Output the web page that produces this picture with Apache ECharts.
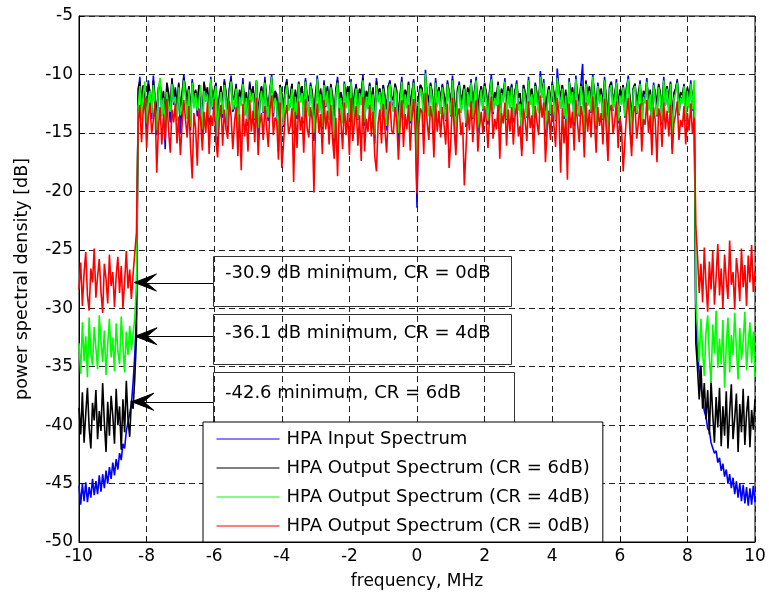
<!DOCTYPE html>
<html>
<head>
<meta charset="utf-8">
<script src="https://cdn.jsdelivr.net/npm/echarts@6/dist/echarts.min.js"></script>
<style>
  html, body { margin: 0; padding: 0; background: #fff; }
  #chart { width: 769px; height: 596px; }
</style>
</head>
<body>
<div id="chart"></div>
<script>
// Frequency grid: -10 MHz to +10 MHz in 0.05 MHz steps (401 bins)
const freqStart = -10;
const freqStep = 0.05;

// Input spectrum (dB): lower skirt, occupied band, upper skirt
const inputLeft = [
  -45.2, -46.8, -45.0, -46.5, -44.9, -46.6, -45.3, -46.2, -44.6, -46.0,
  -44.8, -45.9, -44.3, -45.7, -44.2, -45.4, -43.9, -45.0, -43.6, -44.6,
  -43.2, -44.3, -42.9, -43.8, -42.4, -43.0, -41.6, -42.0, -40.5, -40.6,
  -39.0, -38.2, -36.4, -34.0, -30.5
];
const inputBand = [
  -11.8, -10.2, -13.1, -10.9, -12.4, -14.6, -10.5, -11.7, -13.8, -10.1,
  -12.9, -15.2, -11.3, -10.6, -13.4, -12.0, -16.4, -10.8, -11.9, -14.1,
  -10.3, -12.6, -11.1, -13.9, -10.7, -15.0, -12.2, -10.0, -11.6, -13.3,
  -11.0, -14.8, -10.4, -12.7, -11.4, -13.6, -10.9, -12.1, -15.6, -10.6,
  -12.3, -11.5, -14.3, -10.2, -13.0, -11.8, -10.7, -16.1, -12.5, -11.2,
  -13.7, -10.4, -12.0, -14.9, -11.3, -10.1, -13.2, -12.8, -10.8, -15.4,
  -11.6, -12.4, -10.3, -13.5, -11.9, -14.4, -10.6, -12.2, -11.0, -13.9,
  -10.5, -15.8, -12.6, -11.1, -13.3, -10.2, -12.9, -14.0, -11.4, -10.0,
  -13.6, -11.7, -12.3, -16.6, -10.9, -12.1, -14.5, -11.2, -10.4, -13.0,
  -12.7, -10.8, -15.1, -11.5, -13.8, -10.6, -12.0, -11.3, -14.2, -10.3,
  -12.5, -13.4, -10.7, -11.9, -15.7, -12.2, -10.1, -13.1, -11.6, -14.7,
  -10.5, -12.8, -11.0, -13.7, -10.9, -12.4, -16.2, -11.4, -10.2, -13.2,
  -11.8, -14.1, -10.6, -12.6, -11.1, -13.5, -10.4, -15.3, -12.0, -10.8,
  -13.9, -11.3, -12.3, -10.0, -14.4, -11.7, -12.9, -10.7, -13.3, -11.5,
  -15.9, -10.3, -12.1, -11.2, -13.6, -10.9, -12.7, -14.8, -11.0, -10.5,
  -12.4, -13.1, -10.8, -11.6, -16.0, -12.2, -10.2, -13.8, -11.4, -12.8,
  -10.6, -14.2, -11.9, -10.4, -13.0, -21.4, -12.5, -10.9, -11.3, -14.6,
  -9.6, -12.0, -13.5, -10.7, -11.8, -15.5, -10.3, -12.6, -11.1, -13.2,
  -10.8, -12.3, -14.0, -10.5, -11.7, -13.6, -10.1, -12.9, -16.3, -11.4,
  -10.6, -13.3, -12.1, -10.9, -14.5, -11.2, -12.7, -10.4, -13.8, -11.6,
  -10.2, -15.0, -12.4, -11.0, -13.1, -10.7, -12.0, -14.3, -11.5, -10.0,
  -13.4, -11.8, -12.6, -10.6, -15.6, -11.3, -12.2, -10.3, -13.9, -11.1,
  -12.8, -10.8, -14.1, -11.6, -10.5, -13.0, -12.3, -16.5, -10.9, -11.9,
  -13.7, -10.2, -12.5, -11.4, -14.6, -10.7, -12.1, -13.2, -9.7, -11.7,
  -10.4, -15.3, -12.7, -11.0, -13.5, -10.6, -12.0, -14.0, -9.5, -11.3,
  -12.9, -10.9, -13.8, -11.5, -16.8, -10.3, -12.4, -11.2, -14.4, -10.1,
  -12.2, -13.6, -10.8, -9.1, -15.2, -10.5, -12.6, -11.1, -13.3, -10.0,
  -11.9, -14.7, -10.7, -12.3, -11.4, -13.9, -10.2, -12.8, -15.8, -11.0,
  -10.6, -13.1, -12.0, -10.4, -14.2, -11.6, -12.5, -10.9, -13.7, -11.3,
  -10.1, -12.7, -16.1, -11.2, -10.8, -13.4, -12.2, -10.5, -14.9, -11.7,
  -12.4, -10.3, -13.0, -11.5, -15.5, -10.7, -12.1, -13.6, -10.9, -11.8,
  -14.3, -10.2, -12.6, -11.0, -13.2, -10.6, -16.4, -12.0, -11.4, -10.4,
  -13.5, -11.9, -12.3, -10.8, -14.0, -11.2, -12.8, -10.5, -13.1, -11.6
];
const inputRight = [
  -31.0, -33.8, -35.5, -36.8, -37.6, -38.8, -39.3, -40.3, -40.5, -41.5,
  -41.4, -42.4, -42.2, -43.2, -42.8, -43.9, -43.3, -44.4, -43.8, -45.0,
  -44.2, -45.4, -44.5, -45.9, -44.8, -46.2, -45.0, -46.5, -45.1, -46.7,
  -45.3, -46.9, -45.4, -46.8, -45.2, -46.6
];

// HPA output, CR = 6 dB
const cr6Left = [
  -38.5, -40.8, -37.2, -41.5, -39.0, -36.8, -40.2, -42.0, -38.1, -39.6,
  -37.0, -41.2, -38.8, -40.5, -36.4, -39.8, -42.3, -38.0, -40.9, -37.5,
  -39.2, -41.6, -36.9, -40.0, -38.4, -42.1, -37.8, -40.6, -36.2, -39.5,
  -41.0, -37.9, -38.6, -36.0, -32.5
];
const cr6Band = [
  -11.2, -10.6, -12.4, -11.0, -11.8, -13.1, -10.8, -11.5, -12.7, -10.5,
  -11.9, -13.4, -11.1, -10.9, -12.2, -11.4, -13.8, -10.7, -11.6, -12.9,
  -10.4, -11.8, -11.3, -12.6, -10.8, -13.0, -11.5, -10.3, -11.2, -12.3,
  -11.0, -13.2, -10.6, -11.9, -11.3, -12.5, -10.9, -11.7, -13.5, -10.7,
  -11.6, -11.1, -12.8, -10.5, -12.0, -11.4, -10.8, -13.6, -11.9, -11.0,
  -12.6, -10.6, -11.5, -13.0, -11.2, -10.4, -12.2, -11.8, -10.9, -13.3,
  -11.3, -11.9, -10.7, -12.4, -11.5, -12.9, -10.8, -11.7, -11.1, -12.7,
  -10.6, -13.4, -11.8, -11.0, -12.3, -10.5, -11.9, -12.8, -11.2, -10.3,
  -12.5, -11.4, -11.7, -13.7, -10.9, -11.6, -12.9, -11.1, -10.6, -12.1,
  -11.8, -10.8, -13.2, -11.3, -12.4, -10.7, -11.5, -11.0, -12.8, -10.5,
  -11.7, -12.3, -10.9, -11.4, -13.5, -11.6, -10.4, -12.2, -11.2, -13.0,
  -10.7, -11.9, -11.1, -12.6, -10.8, -11.7, -13.6, -11.3, -10.5, -12.1,
  -11.5, -12.9, -10.8, -11.8, -11.0, -12.4, -10.6, -13.3, -11.6, -10.9,
  -12.7, -11.2, -11.7, -10.3, -12.8, -11.4, -11.9, -10.8, -12.3, -11.1,
  -13.7, -10.6, -11.6, -11.2, -12.5, -10.9, -11.8, -13.0, -11.0, -10.7,
  -11.9, -12.2, -10.8, -11.4, -13.8, -11.7, -10.5, -12.6, -11.3, -11.9,
  -10.7, -12.8, -11.5, -10.6, -12.0, -15.2, -11.8, -10.9, -11.2, -13.1,
  -10.2, -11.6, -12.4, -10.8, -11.5, -13.4, -10.6, -11.9, -11.1, -12.2,
  -10.9, -11.7, -12.8, -10.7, -11.4, -12.5, -10.4, -11.8, -13.6, -11.2,
  -10.8, -12.3, -11.6, -10.9, -12.9, -11.1, -11.8, -10.6, -12.6, -11.4,
  -10.5, -13.2, -11.7, -11.0, -12.1, -10.8, -11.5, -12.8, -11.3, -10.4,
  -12.4, -11.5, -11.9, -10.7, -13.5, -11.2, -11.7, -10.6, -12.7, -11.0,
  -11.8, -10.9, -12.6, -11.4, -10.8, -12.0, -11.6, -13.7, -10.9, -11.5,
  -12.5, -10.6, -11.8, -11.2, -12.9, -10.8, -11.6, -12.2, -10.3, -11.4,
  -10.7, -13.1, -11.9, -11.0, -12.4, -10.8, -11.5, -12.7, -10.4, -11.2,
  -11.9, -10.9, -12.6, -11.3, -13.9, -10.6, -11.7, -11.1, -12.8, -10.5,
  -11.6, -12.3, -10.8, -11.4, -13.2, -10.6, -11.8, -11.0, -12.5, -10.4,
  -11.5, -12.9, -10.9, -11.7, -11.2, -12.6, -10.5, -11.9, -13.6, -11.0,
  -10.7, -12.2, -11.6, -10.8, -12.8, -11.3, -11.8, -10.9, -12.4, -11.1,
  -10.5, -11.9, -13.7, -11.2, -10.8, -12.3, -11.6, -10.7, -13.0, -11.4,
  -11.7, -10.6, -12.1, -11.3, -13.4, -10.9, -11.5, -12.6, -10.8, -11.6,
  -12.9, -10.5, -11.8, -11.0, -12.2, -10.7, -13.8, -11.6, -11.2, -10.6,
  -12.3, -11.5, -11.8, -10.9, -12.7, -11.1, -11.9, -10.8, -12.0, -11.3
];
const cr6Right = [
  -33.0, -35.2, -37.8, -34.9, -38.6, -36.4, -39.5, -37.0, -40.8, -36.2,
  -39.1, -41.5, -37.6, -40.2, -36.8, -41.8, -38.4, -40.9, -37.1, -42.0,
  -38.9, -36.5, -41.2, -39.4, -37.3, -42.3, -38.2, -40.6, -36.9, -41.7,
  -39.0, -37.5, -41.9, -38.7, -40.4, -37.8
];

// HPA output, CR = 4 dB
const cr4Left = [
  -33.0, -35.6, -31.2, -34.5, -32.4, -35.9, -30.8, -33.8, -34.9, -31.6,
  -33.4, -35.2, -30.6, -32.9, -34.6, -31.9, -35.7, -33.1, -30.9, -34.2,
  -32.5, -35.4, -31.3, -33.7, -34.8, -30.7, -33.2, -35.5, -32.0, -34.0,
  -31.5, -33.6, -32.2, -30.8, -28.0
];
const cr4Band = [
  -12.8, -11.0, -13.9, -11.7, -10.6, -14.2, -12.1, -11.4, -13.3, -10.9,
  -12.5, -14.8, -11.2, -10.3, -13.6, -12.0, -15.1, -11.5, -12.7, -13.2,
  -10.8, -12.4, -11.9, -14.0, -11.1, -13.5, -12.6, -10.5, -11.8, -13.8,
  -11.3, -14.5, -10.7, -12.9, -11.6, -13.1, -12.2, -10.9, -14.7, -11.4,
  -12.3, -11.7, -13.7, -10.4, -12.8, -11.9, -11.0, -15.3, -12.6, -11.5,
  -13.4, -10.9, -12.1, -14.4, -11.8, -10.6, -13.0, -12.5, -11.2, -14.9,
  -11.9, -12.7, -10.8, -13.6, -12.0, -14.1, -11.3, -12.4, -11.6, -13.8,
  -10.5, -14.6, -12.3, -11.4, -13.2, -10.7, -12.9, -13.7, -11.5, -10.2,
  -13.3, -12.0, -12.5, -15.4, -11.1, -12.2, -14.3, -11.8, -10.9, -13.1,
  -12.6, -11.2, -14.8, -11.9, -13.5, -10.8, -12.4, -11.6, -14.0, -10.6,
  -12.2, -13.6, -11.0, -12.1, -15.0, -12.8, -10.4, -13.3, -11.7, -14.5,
  -10.9, -12.7, -11.4, -13.9, -11.1, -12.5, -15.5, -11.8, -10.7, -13.4,
  -12.0, -14.2, -10.8, -12.9, -11.5, -13.7, -10.6, -14.9, -12.3, -11.2,
  -13.8, -11.6, -12.6, -10.5, -14.1, -11.9, -13.0, -11.0, -13.5, -11.7,
  -15.2, -10.9, -12.4, -11.5, -13.6, -11.2, -12.8, -14.4, -11.3, -10.8,
  -12.6, -13.2, -11.1, -11.9, -15.0, -12.5, -10.6, -13.9, -11.7, -12.9,
  -10.9, -14.0, -12.2, -10.7, -13.1, -17.6, -12.7, -11.2, -11.6, -14.3,
  -9.9, -12.3, -13.6, -11.0, -12.1, -14.8, -10.7, -12.8, -11.4, -13.4,
  -11.1, -12.6, -13.9, -10.8, -12.0, -13.5, -10.5, -12.9, -15.2, -11.7,
  -10.9, -13.3, -12.4, -11.2, -14.2, -11.5, -12.8, -10.7, -13.7, -11.9,
  -10.5, -14.6, -12.5, -11.3, -13.0, -11.0, -12.2, -14.0, -11.8, -10.4,
  -13.2, -12.0, -12.7, -10.9, -15.1, -11.6, -12.4, -10.6, -13.8, -11.4,
  -12.9, -11.1, -13.7, -11.9, -10.8, -13.1, -12.5, -15.4, -11.2, -12.1,
  -13.6, -10.5, -12.6, -11.7, -14.3, -11.0, -12.3, -13.3, -10.2, -12.0,
  -10.7, -14.7, -12.8, -11.3, -13.4, -10.9, -12.2, -13.9, -10.3, -11.6,
  -12.9, -11.2, -13.6, -11.8, -15.3, -10.6, -12.5, -11.5, -14.1, -10.4,
  -12.4, -13.5, -11.0, -12.0, -14.9, -10.8, -12.7, -11.4, -13.2, -10.2,
  -12.1, -14.4, -11.0, -12.5, -11.7, -13.8, -10.5, -12.9, -15.0, -11.3,
  -10.9, -13.0, -12.2, -10.7, -14.0, -11.8, -12.6, -11.1, -13.6, -11.5,
  -10.4, -12.8, -15.2, -11.4, -11.0, -13.3, -12.3, -10.8, -14.5, -11.9,
  -12.5, -10.6, -13.1, -11.7, -14.8, -10.9, -12.2, -13.5, -11.1, -12.0,
  -14.1, -10.5, -12.7, -11.2, -13.3, -10.8, -15.4, -12.1, -11.6, -10.7,
  -13.4, -12.0, -12.5, -11.0, -13.9, -11.4, -12.9, -10.8, -13.0, -10.5
];
const cr4Right = [
  -29.5, -31.8, -34.6, -30.9, -33.7, -35.8, -32.1, -30.6, -34.2, -36.4,
  -31.4, -33.9, -30.2, -35.1, -32.6, -34.8, -31.0, -36.8, -33.2, -30.8,
  -35.5, -32.3, -34.0, -30.4, -33.5, -36.1, -31.7, -34.4, -32.8, -30.3,
  -35.3, -33.0, -31.2, -34.7, -32.0, -35.9
];

// HPA output, CR = 0 dB
const cr0Left = [
  -28.4, -26.1, -29.8, -27.0, -25.2, -28.9, -30.2, -26.6, -27.8, -24.9,
  -29.1, -27.3, -25.8, -28.6, -30.4, -26.2, -27.5, -29.6, -25.4, -28.1,
  -26.9, -29.9, -27.2, -25.6, -28.7, -26.4, -30.0, -27.7, -25.1, -28.3,
  -26.7, -29.2, -27.1, -25.3, -23.5
];
const cr0Band = [
  -14.2, -12.6, -15.8, -13.1, -12.0, -16.3, -13.7, -12.4, -15.1, -13.9,
  -12.3, -18.4, -14.5, -12.8, -16.0, -13.4, -15.6, -12.1, -14.8, -16.7,
  -13.0, -14.1, -12.5, -15.9, -13.6, -16.9, -14.3, -12.2, -13.8, -15.4,
  -12.7, -16.2, -18.9, -13.3, -14.6, -17.8, -12.9, -14.0, -16.5, -13.2,
  -15.0, -12.4, -16.8, -13.5, -14.4, -12.1, -15.7, -17.1, -13.9, -12.6,
  -16.1, -13.0, -14.7, -15.5, -12.3, -13.6, -16.4, -14.1, -12.8, -17.0,
  -13.4, -18.2, -12.5, -15.3, -13.8, -16.6, -12.2, -14.9, -13.1, -15.8,
  -12.0, -16.9, -14.2, -13.3, -15.6, -12.7, -14.5, -16.2, -13.0, -11.8,
  -15.2, -13.7, -14.0, -17.3, -12.4, -18.0, -16.0, -13.5, -12.6, -15.1,
  -14.4, -12.9, -19.2, -13.2, -16.3, -12.3, -14.8, -13.6, -16.7, -12.1,
  -14.6, -15.4, -12.8, -13.9, -20.1, -14.3, -12.5, -15.0, -13.4, -16.8,
  -12.2, -14.7, -13.1, -16.0, -12.6, -15.5, -17.2, -13.7, -18.7, -12.9,
  -14.1, -16.4, -12.4, -15.2, -13.3, -16.9, -12.0, -15.7, -14.0, -12.7,
  -16.1, -13.5, -17.4, -11.9, -16.6, -13.8, -14.9, -12.6, -15.3, -13.2,
  -17.0, -18.3, -14.2, -13.0, -15.9, -12.5, -14.6, -16.7, -13.6, -12.3,
  -14.8, -15.1, -12.8, -13.9, -17.3, -14.4, -12.2, -16.2, -13.4, -14.7,
  -12.6, -16.5, -13.7, -12.1, -15.0, -20.2, -14.5, -12.9, -13.3, -16.8,
  -11.6, -14.0, -15.6, -12.7, -13.8, -17.1, -12.4, -14.9, -13.1, -15.4,
  -12.8, -14.3, -16.0, -12.5, -18.0, -15.7, -12.0, -14.6, -16.9, -13.5,
  -12.9, -15.2, -14.1, -19.5, -16.4, -13.0, -14.8, -12.3, -15.8, -13.6,
  -12.2, -16.6, -14.5, -13.2, -15.1, -12.7, -14.0, -16.3, -13.4, -11.9,
  -15.5, -13.8, -14.7, -12.6, -17.2, -13.3, -14.2, -12.4, -16.1, -13.0,
  -14.9, -12.8, -16.0, -13.6, -12.5, -15.3, -14.4, -17.0, -12.9, -13.9,
  -15.7, -12.3, -14.6, -13.5, -16.8, -12.7, -14.1, -15.2, -11.8, -13.7,
  -12.4, -17.5, -14.8, -13.1, -15.6, -12.6, -14.3, -16.2, -12.0, -13.4,
  -18.4, -12.9, -15.9, -13.8, -19.0, -12.5, -14.6, -13.2, -16.5, -12.2,
  -14.2, -15.8, -12.7, -13.6, -17.1, -12.4, -14.9, -13.0, -15.4, -11.9,
  -13.9, -16.7, -12.8, -14.4, -13.3, -16.0, -12.1, -14.7, -17.4, -13.1,
  -12.6, -15.1, -14.0, -12.3, -16.3, -13.7, -14.5, -18.3, -15.7, -13.4,
  -12.0, -14.8, -17.0, -13.2, -12.7, -15.5, -14.1, -12.5, -16.6, -13.8,
  -14.3, -12.2, -15.0, -13.5, -16.9, -12.8, -14.0, -17.5, -12.9, -13.6,
  -16.2, -12.4, -14.7, -13.1, -15.3, -12.6, -16.8, -14.2, -13.4, -12.3,
  -15.6, -13.9, -14.5, -12.7, -16.0, -13.3, -14.8, -12.5, -15.1, -13.7
];
const cr0Right = [
  -23.0, -25.6, -28.7, -26.2, -29.5, -24.8, -27.9, -30.3, -26.0, -28.4,
  -25.1, -29.7, -27.3, -24.5, -28.9, -26.6, -30.0, -25.4, -27.6, -29.2,
  -24.2, -28.0, -26.9, -30.1, -25.7, -27.1, -29.4, -24.9, -28.2, -26.3,
  -29.8, -25.5, -27.8, -24.6, -28.6, -26.8
];

const seriesNames = [
  'HPA Input Spectrum',
  'HPA Output Spectrum (CR = 6dB)',
  'HPA Output Spectrum (CR = 4dB)',
  'HPA Output Spectrum (CR = 0dB)'
];
const seriesColors = ['#0000ff', '#000000', '#00ff00', '#ff0000'];

// Out-of-band minimum annotations: text and the point each arrow points at
const annoTexts = [
  '-30.9 dB minimum, CR = 0dB',
  '-36.1 dB minimum, CR = 4dB',
  '-42.6 minimum, CR = 6dB'
];
const annoTipFreq = [-8.36, -8.34, -8.44];
const annoTipDb = [-27.8, -32.4, -38.0];

const xTicks = { min: -10, max: 10, interval: 2 };
const yTicks = { min: -50, max: -5, interval: 5 };

function toPairs(left, band, right) {
  const vals = left.concat(band, right);
  return vals.map((v, i) => [Number((freqStart + i * freqStep).toFixed(2)), v]);
}

const seriesData = [
  toPairs(inputLeft, inputBand, inputRight),
  toPairs(cr6Left, cr6Band, cr6Right),
  toPairs(cr4Left, cr4Band, cr4Right),
  toPairs(cr0Left, cr0Band, cr0Right)
];

const FONT = 'DejaVu Sans';
const chart = echarts.init(document.getElementById('chart'), null, { renderer: 'canvas' });

const gridLine = { show: true, lineStyle: { color: '#222', width: 1, type: [6, 4] } };

chart.setOption({
  animation: false,
  backgroundColor: '#fff',
  grid: {
    left: 79, right: 14, top: 16, bottom: 54,
    show: true, borderColor: '#000', borderWidth: 1, backgroundColor: 'transparent'
  },
  xAxis: {
    type: 'value',
    min: xTicks.min, max: xTicks.max, interval: xTicks.interval,
    name: 'frequency, MHz',
    nameLocation: 'middle', nameGap: 31,
    nameTextStyle: { fontFamily: FONT, fontSize: 17, color: '#000' },
    axisLine: { show: true, onZero: false, lineStyle: { color: '#000', width: 1 } },
    axisTick: { show: true, inside: true, length: 5, lineStyle: { color: '#000' } },
    axisLabel: { fontFamily: FONT, fontSize: 17, color: '#000', margin: 6 },
    splitLine: gridLine
  },
  yAxis: {
    type: 'value',
    min: yTicks.min, max: yTicks.max, interval: yTicks.interval,
    name: 'power spectral density [dB]',
    nameLocation: 'middle', nameGap: 48,
    nameTextStyle: { fontFamily: FONT, fontSize: 17.5, color: '#000' },
    axisLine: { show: true, onZero: false, lineStyle: { color: '#000', width: 1 } },
    axisTick: { show: true, inside: true, length: 5, lineStyle: { color: '#000' } },
    axisLabel: { fontFamily: FONT, fontSize: 17, color: '#000', margin: 6 },
    splitLine: gridLine
  },
  legend: {
    orient: 'vertical',
    left: 203, top: 422,
    padding: [8, 13, 7, 13],
    itemGap: 11,
    itemWidth: 63, itemHeight: 18,
    backgroundColor: '#fff',
    borderColor: '#000', borderWidth: 1,
    z: 20,
    itemStyle: { opacity: 0 },
    lineStyle: { width: 1 },
    textStyle: { fontFamily: FONT, fontSize: 18, color: '#000', padding: [0, 0, 0, 2] },
    data: seriesNames
  },
  series: seriesNames.map((name, k) => ({
    name,
    type: 'line',
    data: seriesData[k],
    symbol: 'none',
    showSymbol: false,
    sampling: null,
    color: seriesColors[k],
    lineStyle: { color: seriesColors[k], width: 1.6 },
    z: 2 + k
  }))
});

// Annotation boxes with arrows pointing at the lower skirt
const boxes = [
  { x: 213, y: 256, w: 298, h: 50, ty: 273 },
  { x: 213, y: 314, w: 298, h: 50, ty: 333 },
  { x: 213, y: 372, w: 301, h: 50, ty: 393 }
];
const graphics = [];
annoTexts.forEach((txt, i) => {
  const b = boxes[i];
  const tip = chart.convertToPixel({ gridIndex: 0 }, [annoTipFreq[i], annoTipDb[i]]);
  const tx = tip[0], ty = tip[1];
  graphics.push({
    type: 'rect', z: 15,
    shape: { x: b.x + 0.5, y: b.y + 0.5, width: b.w, height: b.h },
    style: { fill: 'none', stroke: '#333', lineWidth: 1 }
  });
  graphics.push({
    type: 'text', z: 15, x: b.x + 12, y: b.ty,
    style: { text: txt, font: '18px "' + FONT + '"', fill: '#000', textVerticalAlign: 'middle', textAlign: 'left' }
  });
  graphics.push({
    type: 'line', z: 15,
    shape: { x1: tx + 12, y1: Math.round(ty) + 0.5, x2: b.x, y2: Math.round(ty) + 0.5 },
    style: { stroke: '#000', lineWidth: 1 }
  });
  graphics.push({
    type: 'polygon', z: 16,
    shape: { points: [[tx, ty], [tx + 22, ty - 8.5], [tx + 12, ty], [tx + 22, ty + 8.5]] },
    style: { fill: '#000', stroke: '#000', lineWidth: 1 }
  });
});
chart.setOption({ graphic: graphics });
</script>
</body>
</html>
